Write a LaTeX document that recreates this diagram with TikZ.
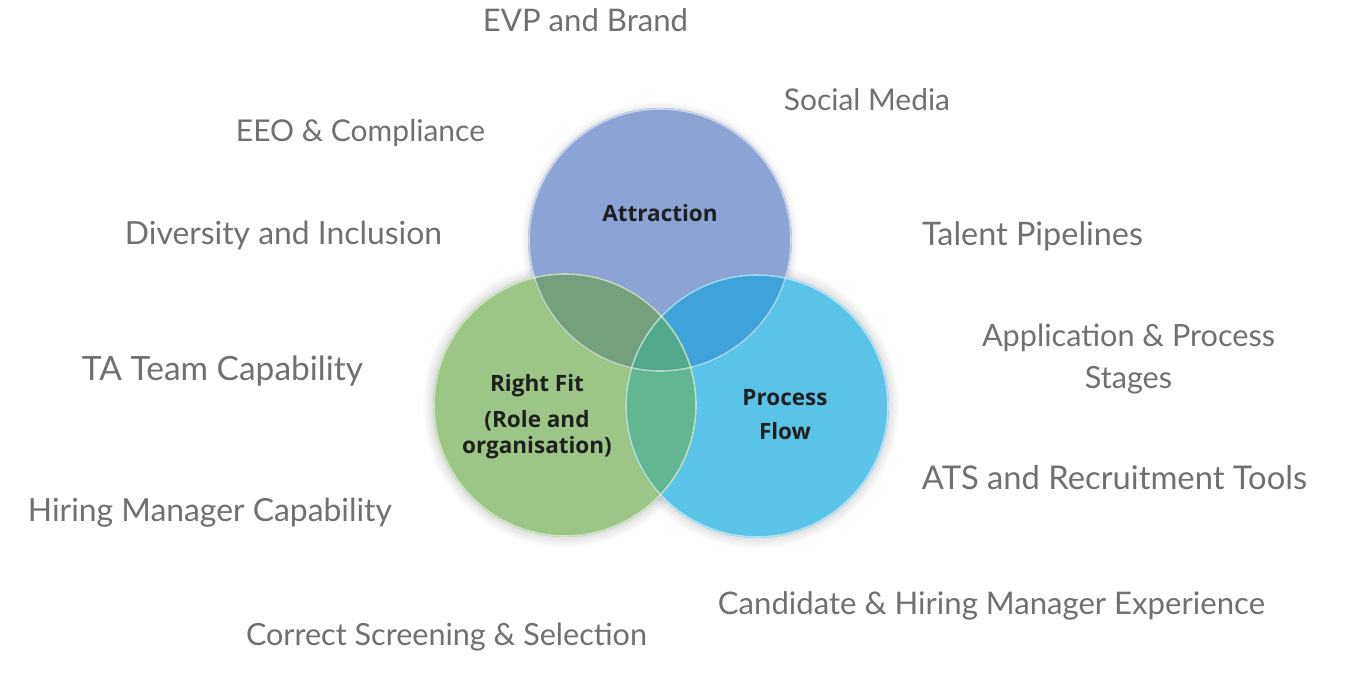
\documentclass[tikz,border=0pt]{standalone}
\usepackage{fontspec}
\setmainfont{Lato}
\newfontfamily\circfont{Open Sans}
\definecolor{cBlue}{HTML}{8DA3D6}
\definecolor{cGreen}{HTML}{9DC585}
\definecolor{cCyan}{HTML}{5CC3E8}
\definecolor{cBG}{HTML}{74A07E}
\definecolor{cBC}{HTML}{3FA2DA}
\definecolor{cGC}{HTML}{62B692}
\definecolor{cAll}{HTML}{52A88A}
\definecolor{labelgray}{HTML}{707070}
\begin{document}
\begin{tikzpicture}[x=1pt,y=-1pt,
  lbl/.style={text=labelgray, inner sep=0pt},
  ctext/.style={font=\circfont\bfseries\fontsize{22.5}{26}\selectfont, text=black!88, align=center, inner sep=0pt},
  rim/.style={draw=white, opacity=0.55, line width=1.6pt},
  softshade/.style={fill=black, opacity=0.018}]
\useasboundingbox[fill=white] (0,0) rectangle (1346,677);
\coordinate (A) at (660,240);
\coordinate (R) at (565,405);
\coordinate (P) at (757,406);
% soft shadows
\foreach \k in {0,...,11}{
  \fill[softshade, shift={(-7,12)}] (R) circle ({142pt-1.8pt*\k});
  \fill[softshade, shift={(-4,12)}] (P) circle ({142pt-1.8pt*\k});
  \fill[softshade, shift={(-7,6)}] (A) circle ({138pt-1.8pt*\k});
}
% base circles
\fill[cBlue] (A) circle (132pt);
\fill[cGreen] (R) circle (132pt);
\fill[cCyan] (P) circle (132pt);
% overlaps
\begin{scope}\clip (A) circle (132pt); \fill[cBG] (R) circle (132pt); \end{scope}
\begin{scope}\clip (A) circle (132pt); \fill[cBC] (P) circle (132pt); \end{scope}
\begin{scope}\clip (R) circle (132pt); \fill[cGC] (P) circle (132pt); \end{scope}
\begin{scope}\clip (A) circle (132pt); \clip (R) circle (132pt); \fill[cAll] (P) circle (132pt); \end{scope}
% rims
\draw[rim] (A) circle (131pt);
\draw[rim] (R) circle (131pt);
\draw[rim] (P) circle (131pt);
% circle labels
\node[ctext] (attr) at (660,213) {Attraction};
\node[ctext] (fit) at (537,417) {Right Fit\\[10pt](Role and\\organisation)};
\node[ctext] (flow) at (785,415) {Process\\[8pt]Flow};
% outer labels
\node[lbl] (evp) at (585.5,20) {\resizebox{205pt}{!}{EVP and Brand}};
\node[lbl] (social) at (867,100) {\resizebox{166pt}{!}{Social Media}};
\node[lbl] (eeo) at (360.5,133) {\resizebox{249pt}{!}{EEO \& Compliance}};
\node[lbl] (div) at (283.5,236) {\resizebox{317pt}{!}{Diversity and Inclusion}};
\node[lbl] (talent) at (1032.5,236) {\resizebox{221pt}{!}{Talent Pipelines}};
\node[lbl] (app) at (1128.5,360) {\resizebox{293pt}{!}{\begin{tabular}{@{}c@{}}Application \& Process\\[1.5pt]Stages\end{tabular}}};
\node[lbl] (ta) at (222.5,371) {\resizebox{281pt}{!}{TA Team Capability}};
\node[lbl] (ats) at (1114.5,478) {\resizebox{385pt}{!}{ATS and Recruitment Tools}};
\node[lbl] (hm) at (210,513) {\resizebox{364pt}{!}{Hiring Manager Capability}};
\node[lbl] (cand) at (991.5,606) {\resizebox{547pt}{!}{Candidate \& Hiring Manager Experience}};
\node[lbl] (screen) at (446.5,637) {\resizebox{401pt}{!}{Correct Screening \& Selection}};
\end{tikzpicture}
\end{document}
